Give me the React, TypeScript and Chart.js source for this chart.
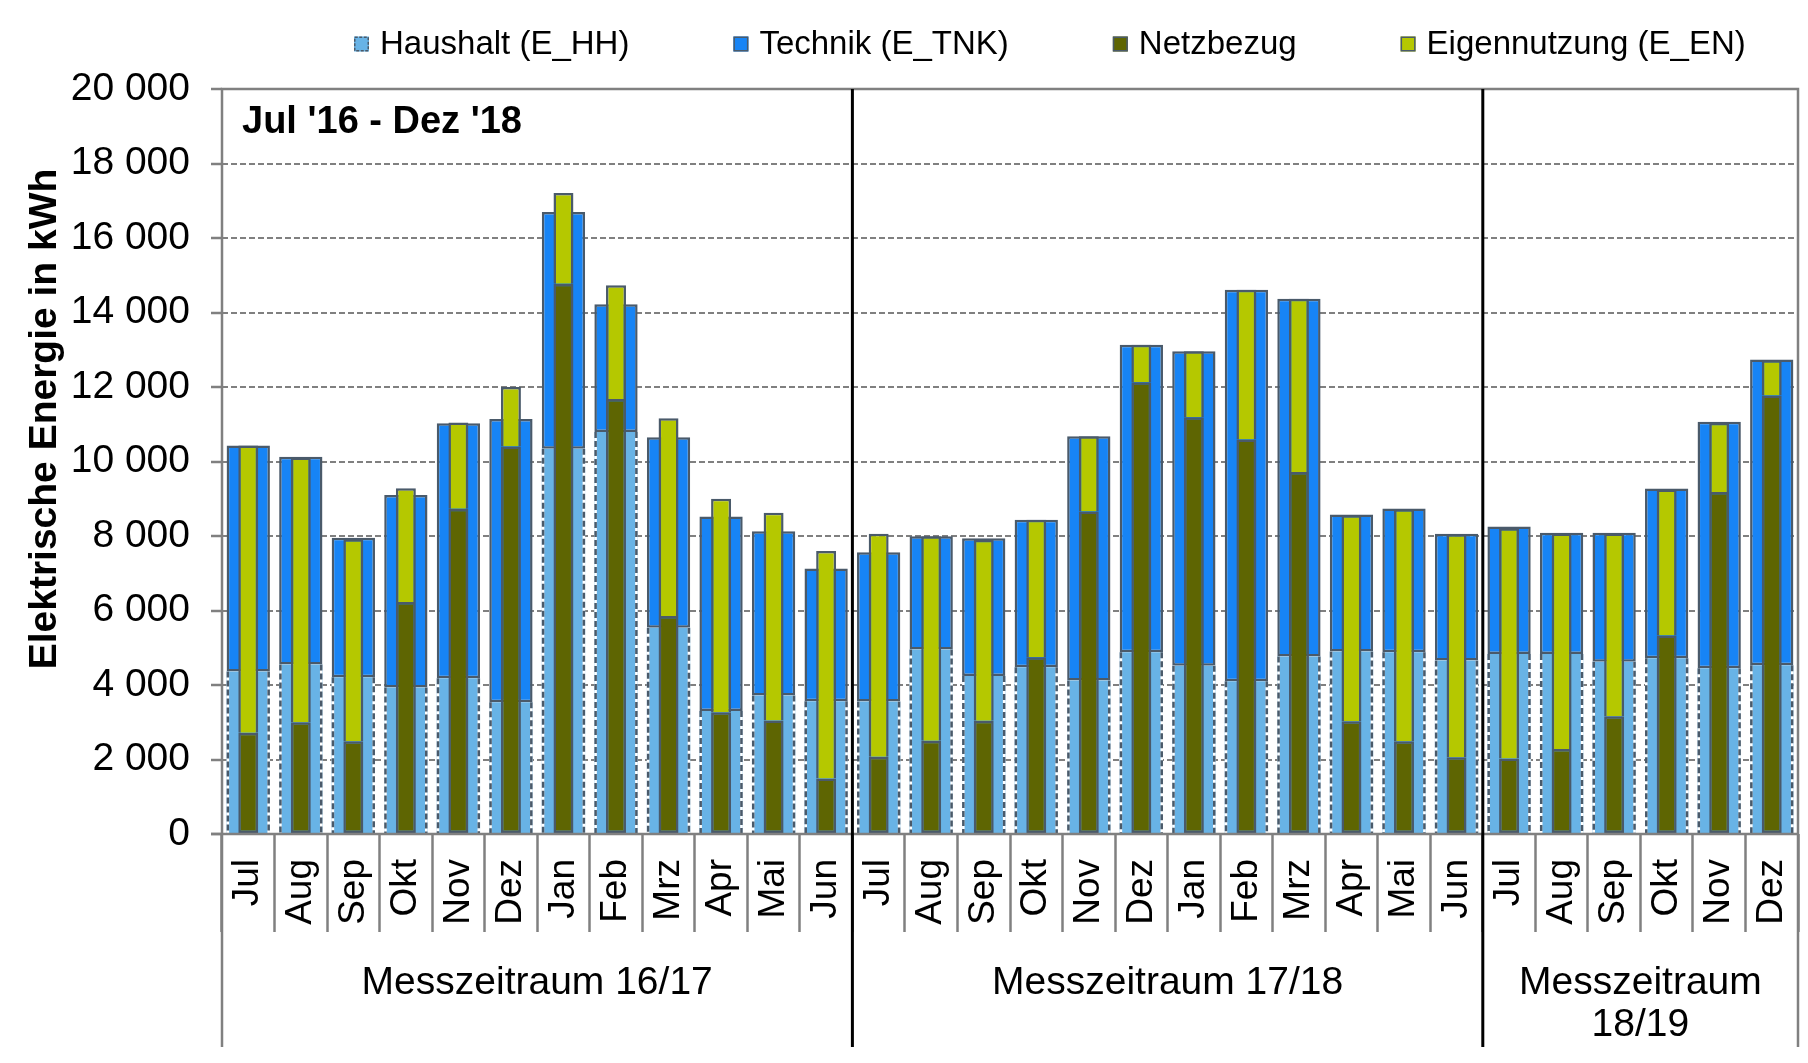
import React, { useEffect, useRef } from 'react';
import { Chart, registerables } from 'chart.js';

Chart.register(...registerables);

// ---- data ----
const months: string[] = [
  'Jul', 'Aug', 'Sep', 'Okt', 'Nov', 'Dez', 'Jan', 'Feb', 'Mrz', 'Apr', 'Mai', 'Jun',
  'Jul', 'Aug', 'Sep', 'Okt', 'Nov', 'Dez', 'Jan', 'Feb', 'Mrz', 'Apr', 'Mai', 'Jun',
  'Jul', 'Aug', 'Sep', 'Okt', 'Nov', 'Dez',
];

const periodLabels: string[] = ['Messzeitraum 16/17', 'Messzeitraum 17/18', 'Messzeitraum 18/19'];
const periodStart: number[] = [0, 12, 24];
const periodEnd: number[] = [11, 23, 29];

const haushalt: number[] = [
  4360, 4550, 4210, 3930, 4180, 3535, 10340, 10790, 5540, 3300, 3720, 3565,
  3560, 4950, 4244, 4475, 4118, 4878, 4520, 4099, 4762, 4900, 4878, 4660,
  4830, 4830, 4623, 4717, 4453, 4528,
];
const technik: number[] = [
  6070, 5580, 3740, 5170, 6850, 7605, 6360, 3430, 5113, 5223, 4408, 3565,
  4004, 3044, 3696, 3959, 6562, 8256, 8443, 10513, 9608, 3675, 3862, 3400,
  3425, 3255, 3462, 4557, 6613, 8208,
];
const netzbezug: number[] = [
  2720, 3000, 2490, 6230, 8730, 10400, 14770, 11680, 5850, 3270, 3046, 1490,
  2076, 2506, 3043, 4743, 8657, 12130, 11190, 10591, 9720, 3030, 2490, 2058,
  2028, 2283, 3160, 5330, 9179, 11774,
];
const eigennutzung: number[] = [
  7710, 7110, 5420, 3050, 2320, 1600, 2440, 3050, 5310, 5728, 5576, 6110,
  5982, 5488, 4857, 3691, 2023, 1004, 1773, 4021, 4650, 5530, 6230, 5992,
  6182, 5783, 4906, 3915, 1859, 943,
];

const seriesNames: string[] = ['Haushalt (E_HH)', 'Technik (E_TNK)', 'Netzbezug', 'Eigennutzung (E_EN)'];
const yTicks = { min: 0, max: 20000, step: 2000 };
const chartTitle = "Jul '16 - Dez '18";
const yAxisTitle = 'Elektrische Energie in kWh';

// ---- styles ----
const FONT = "'Liberation Sans', Arial, Helvetica, sans-serif";
const GRID = '#808080';
const BORDER = '#4A5A6A';
const C_HH = '#68B3E6';
const C_TNK = '#1784F5';
const C_NETZ = '#5E6502';
const C_EN = '#B5C800';
const seriesColors = [C_HH, C_TNK, C_NETZ, C_EN];

const fmt = (v: number) => String(v).replace(/\B(?=(\d{3})+(?!\d))/g, ' ');

const overlayPlugin = {
  id: 'overlay',
  afterDatasetDraw(chart: any, args: any) {
    if (args.index !== 0) return;
    const ctx = chart.ctx;
    ctx.save();
    args.meta.data.forEach((el: any) => {
      const { x, y, base, width } = el.getProps(['x', 'y', 'base', 'width'], true);
      const l = x - width / 2 + 1.25;
      const r = x + width / 2 - 1.25;
      const top = Math.min(y, base);
      const bot = Math.max(y, base);
      [l, r].forEach((xx) => {
        ctx.lineWidth = 2.5;
        ctx.setLineDash([]);
        ctx.strokeStyle = '#ffffff';
        ctx.beginPath();
        ctx.moveTo(xx, top);
        ctx.lineTo(xx, bot);
        ctx.stroke();
        ctx.setLineDash([6, 3]);
        ctx.strokeStyle = BORDER;
        ctx.beginPath();
        ctx.moveTo(xx, top);
        ctx.lineTo(xx, bot);
        ctx.stroke();
      });
    });
    ctx.restore();
  },
  afterDraw(chart: any) {
    const { ctx, chartArea: ca, scales } = chart;
    const xs = scales.x;
    const half = (xs.getPixelForValue(1) - xs.getPixelForValue(0)) / 2;
    const lowY = 1047;
    ctx.save();
    ctx.setLineDash([]);
    // frame
    ctx.strokeStyle = GRID;
    ctx.lineWidth = 2.5;
    ctx.beginPath();
    ctx.moveTo(ca.left, lowY);
    ctx.lineTo(ca.left, ca.top);
    ctx.lineTo(ca.right, ca.top);
    ctx.lineTo(ca.right, lowY);
    ctx.moveTo(ca.left - 11, ca.bottom);
    ctx.lineTo(ca.right, ca.bottom);
    ctx.stroke();
    // period separators
    ctx.strokeStyle = '#000000';
    ctx.lineWidth = 3;
    for (let p = 1; p < periodStart.length; p++) {
      const bx = xs.getPixelForValue(periodStart[p]) - half;
      ctx.beginPath();
      ctx.moveTo(bx, ca.top);
      ctx.lineTo(bx, lowY);
      ctx.stroke();
    }
    // period labels
    ctx.fillStyle = '#000000';
    ctx.font = `39px ${FONT}`;
    ctx.textAlign = 'center';
    ctx.textBaseline = 'middle';
    periodLabels.forEach((lab, p) => {
      const x0 = xs.getPixelForValue(periodStart[p]) - half;
      const x1 = xs.getPixelForValue(periodEnd[p]) + half;
      const cx = (x0 + x1) / 2;
      const avail = x1 - x0 - 10;
      const words = lab.split(' ');
      const lines: string[] = [];
      let cur = '';
      words.forEach((w) => {
        const test = cur ? cur + ' ' + w : w;
        if (ctx.measureText(test).width > avail && cur) {
          lines.push(cur);
          cur = w;
        } else {
          cur = test;
        }
      });
      if (cur) lines.push(cur);
      lines.forEach((ln, i) => ctx.fillText(ln, cx, 983 + i * 42));
    });
    // inner title
    ctx.font = `bold 38px ${FONT}`;
    ctx.textAlign = 'left';
    ctx.textBaseline = 'alphabetic';
    ctx.fillText(chartTitle, 242, 133);
    // y axis title
    ctx.save();
    ctx.translate(56, 419);
    ctx.rotate(-Math.PI / 2);
    ctx.font = `bold 39px ${FONT}`;
    ctx.textAlign = 'center';
    ctx.fillText(yAxisTitle, 0, 0);
    ctx.restore();
    // legend
    ctx.font = `33px ${FONT}`;
    ctx.textBaseline = 'middle';
    ctx.textAlign = 'left';
    let lx = 354;
    const ly = 44;
    seriesNames.forEach((name, i) => {
      ctx.fillStyle = seriesColors[i];
      ctx.fillRect(lx, ly - 7.5, 15, 15);
      ctx.lineWidth = 1.5;
      ctx.strokeStyle = BORDER;
      ctx.setLineDash(i === 0 ? [3, 1.5] : []);
      ctx.strokeRect(lx + 0.75, ly - 6.75, 13.5, 13.5);
      ctx.setLineDash([]);
      ctx.fillStyle = '#000000';
      ctx.fillText(name, lx + 26, ly + 1);
      lx += 26 + ctx.measureText(name).width + 104;
    });
    ctx.restore();
  },
};

export default function App() {
  const ref = useRef<HTMLCanvasElement | null>(null);
  useEffect(() => {
    if (!ref.current) return;
    Chart.defaults.font.family = FONT;
    const wide = { categoryPercentage: 1, barPercentage: 0.824, grouped: false, stack: 'verbrauch', order: 2 };
    const narrow = { categoryPercentage: 1, barPercentage: 0.38, grouped: false, stack: 'bezug', order: 1 };
    const chart = new Chart(ref.current, {
      type: 'bar',
      data: {
        labels: months,
        datasets: [
          { label: seriesNames[0], data: haushalt, backgroundColor: C_HH, borderWidth: 0, ...wide },
          { label: seriesNames[1], data: technik, backgroundColor: C_TNK, borderColor: BORDER, borderWidth: 2.5, borderSkipped: false, ...wide },
          { label: seriesNames[2], data: netzbezug, backgroundColor: C_NETZ, borderColor: BORDER, borderWidth: 2.5, borderSkipped: false, ...narrow },
          { label: seriesNames[3], data: eigennutzung, backgroundColor: C_EN, borderColor: BORDER, borderWidth: 2.5, borderSkipped: 'start', ...narrow },
        ] as any,
      },
      options: {
        responsive: false,
        animation: false,
        devicePixelRatio: 1,
        layout: { padding: { top: 89, right: 10, left: 0, bottom: 0 } },
        plugins: { legend: { display: false }, tooltip: { enabled: false }, title: { display: false } },
        scales: {
          x: {
            stacked: true,
            offset: true,
            afterFit: (s: any) => { s.height = 229; },
            grid: {
              offset: true,
              drawOnChartArea: false,
              drawTicks: true,
              tickLength: 98,
              tickColor: GRID,
              tickWidth: 2.5,
              color: GRID,
            },
            border: { display: false },
            ticks: {
              autoSkip: false,
              minRotation: 90,
              maxRotation: 90,
              padding: -73,
              color: '#000000',
              font: { size: 37, family: FONT },
            },
          },
          y: {
            stacked: true,
            min: yTicks.min,
            max: yTicks.max,
            afterFit: (s: any) => { s.width = 222; },
            grid: {
              color: GRID,
              lineWidth: 2,
              drawTicks: true,
              tickLength: 11,
              tickColor: GRID,
              tickWidth: 2.5,
              tickBorderDash: [],
            },
            border: { display: false, dash: [6, 3] },
            ticks: {
              stepSize: yTicks.step,
              padding: 21,
              color: '#000000',
              font: { size: 39, family: FONT },
              callback: (v: any) => fmt(Number(v)),
            },
          },
        },
      } as any,
      plugins: [overlayPlugin],
    });
    return () => chart.destroy();
  }, []);
  return (
    <div style={{ position: 'absolute', left: 0, top: 0, width: 1808, height: 1063, background: '#ffffff' }}>
      <canvas ref={ref} width={1808} height={1063} style={{ display: 'block' }} />
    </div>
  );
}
